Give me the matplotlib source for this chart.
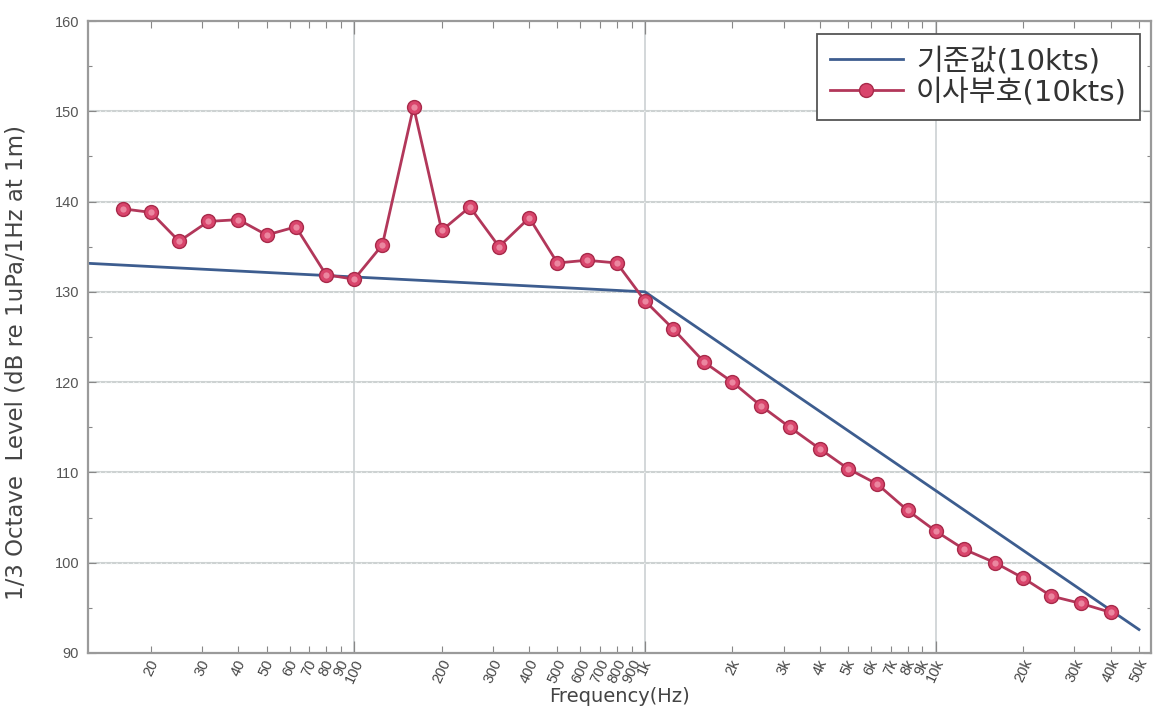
import matplotlib
matplotlib.use("Agg")
import matplotlib.pyplot as plt
from matplotlib.ticker import MultipleLocator
from matplotlib.font_manager import FontProperties

plt.rcParams['font.family'] = ['Liberation Sans', 'Noto Sans CJK KR', 'DejaVu Sans']

# 1/3-octave band centre frequencies (Hz) and measured levels
freqs = [16, 20, 25, 31.5, 40, 50, 63, 80, 100, 125, 160, 200, 250, 315, 400,
         500, 630, 800, 1000, 1250, 1600, 2000, 2500, 3150, 4000, 5000, 6300,
         8000, 10000, 12500, 16000, 20000, 25000, 31500, 40000]
levels = [139.2, 138.8, 135.6, 137.8, 138.0, 136.3, 137.2, 131.9, 131.4, 135.2,
          150.5, 136.8, 139.4, 135.0, 138.2, 133.2, 133.5, 133.2, 129.0,
          125.9, 122.2, 120.0, 117.4, 115.0, 112.6, 110.4, 108.7, 105.8, 103.5,
          101.5, 100.0, 98.3, 96.3, 95.5, 94.5]

# reference curve breakpoints (straight segments on a log-frequency axis)
ref_freqs = [10, 1000, 50000]
ref_levels = [133.3, 130.0, 92.6]

decade_ticks = [100, 1000, 10000]
decade_labels = ["100", "1k", "10k"]
sub_ticks = [20, 30, 40, 50, 60, 70, 80, 90, 200, 300, 400, 500, 600, 700,
             800, 900, 2000, 3000, 4000, 5000, 6000, 7000, 8000, 9000,
             20000, 30000, 40000, 50000]
sub_labels = ["20", "30", "40", "50", "60", "70", "80", "90", "200", "300",
              "400", "500", "600", "700", "800", "900", "2k", "3k", "4k", "5k",
              "6k", "7k", "8k", "9k", "20k", "30k", "40k", "50k"]

ref_name = "기준값(10kts)"
ship_name = "이사부호(10kts)"

fig = plt.figure(figsize=(11.56, 7.12), dpi=100)
ax = fig.add_axes([87.5 / 1156, 1 - 653 / 712, (1151 - 87.5) / 1156, (653 - 21) / 712])

ax.set_xscale('log')
ax.set_xlim(12.1, 55000)
ax.set_ylim(90, 160)

# grid
for f in decade_ticks:
    ax.axvline(f, color='#c8cdcf', lw=1.1, zorder=0)
for y in range(100, 160, 10):
    ax.axhline(y, color='#cdd2d2', lw=1.5, zorder=0)
    ax.axhline(y, color='#eef0f0', lw=1.0, ls=(0, (1, 3)), zorder=0)

ax.plot(ref_freqs, ref_levels, color='#3d5d8f', lw=2.0, zorder=2, label=ref_name)
ax.plot(freqs, levels, color='#b2375a', lw=2.0, marker='o', markersize=10,
        markerfacecolor='#d9456c', markeredgecolor='#a82a4a', markeredgewidth=1.0,
        zorder=3, label=ship_name)
# highlight on the spherical markers
ax.plot(freqs, levels, ls='none', marker='o', markersize=4.5,
        markerfacecolor='#ef93aa', markeredgecolor='none', alpha=0.85, zorder=4)

# ticks
ax.set_xticks(decade_ticks, decade_labels)
ax.set_xticks(sub_ticks, sub_labels, minor=True)
for lbl in ax.get_xticklabels(which='both'):
    lbl.set_rotation(65)
    lbl.set_ha('center')
    lbl.set_va('top')
ax.tick_params(axis='x', which='major', direction='in', length=9, width=0.9,
               colors='#888888', labelcolor='#444444', labelsize=10.5, pad=3,
               top=True)
ax.tick_params(axis='x', which='minor', direction='in', length=5, width=0.8,
               colors='#888888', labelcolor='#444444', labelsize=10.5, pad=3,
               top=True)
ax.yaxis.set_major_locator(MultipleLocator(10))
ax.yaxis.set_minor_locator(MultipleLocator(5))
ax.tick_params(axis='y', which='major', direction='in', length=6, width=0.8,
               colors='#888888', labelcolor='#555555', labelsize=10.5, pad=6,
               right=True)
ax.tick_params(axis='y', which='minor', direction='in', length=3, width=0.8,
               colors='#888888', right=True)

for s in ax.spines.values():
    s.set_color('#9a9a9a')
    s.set_linewidth(1.6)

ax.set_xlabel("Frequency(Hz)", fontsize=14, color='#444444', family='DejaVu Sans')
ax.xaxis.set_label_coords(0.5, -0.054)
ax.set_ylabel("1/3 Octave  Level (dB re 1uPa/1Hz at 1m)", fontsize=16.5,
              color='#444444', family='DejaVu Sans')
ax.yaxis.set_label_coords(-0.056, 0.46)

leg_font = FontProperties(family=['DejaVu Sans', 'Noto Sans CJK KR'], size=21)
leg = ax.legend(loc='upper right', bbox_to_anchor=(0.9897, 0.9794), borderaxespad=0,
                prop=leg_font, frameon=True, fancybox=False, handlelength=2.5,
                borderpad=0.45, labelspacing=0.12, handletextpad=0.45,
                framealpha=1)
leg.get_frame().set_edgecolor('#555555')
leg.get_frame().set_linewidth(1.3)
for t in leg.get_texts():
    t.set_color('#333333')

fig.savefig("out.png", dpi=100)
